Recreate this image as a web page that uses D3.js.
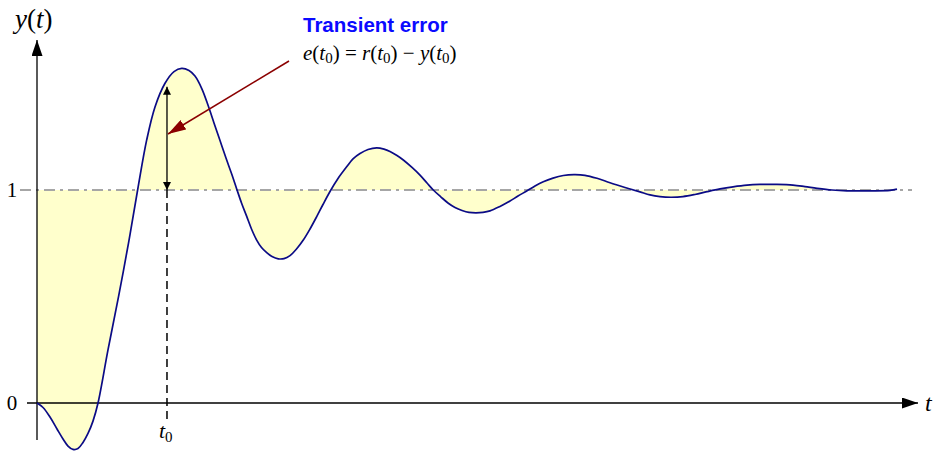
<!DOCTYPE html>
<html>
<head>
<meta charset="utf-8">
<script src="https://cdn.jsdelivr.net/npm/d3@7"></script>
<style>
  html, body { margin: 0; padding: 0; background: #fff; }
  svg { display: block; }
  .serif { font-family: "Liberation Serif", "Times New Roman", serif; }
</style>
</head>
<body>
<svg id="chart" width="933" height="451"></svg>
<script>
// Step response of a non-minimum-phase second-order system
const tValues = [0, 0.140, 0.302, 0.465, 0.605, 0.721, 0.837, 0.953, 1.070, 1.186,
  1.302, 1.419, 1.651, 1.895, 2.128, 2.340, 2.551, 2.744, 2.977, 3.186, 3.365,
  3.535, 3.674, 3.837, 3.984, 4.116, 4.256, 4.395, 4.528, 4.644, 4.756, 4.877,
  4.988, 5.109, 5.221, 5.342, 5.465, 5.612, 5.744, 5.884, 6.035, 6.193, 6.349,
  6.505, 6.651, 6.814, 7.000, 7.202, 7.349, 7.512, 7.698, 7.900, 8.070, 8.209,
  8.372, 8.519, 8.721, 8.907, 9.070, 9.216, 9.395, 9.565, 9.721, 9.884, 10.047,
  10.209, 10.372, 10.535, 10.767, 11.000, 11.186, 11.388, 11.581, 11.774, 12.000,
  12.240, 12.488, 12.744, 13.023, 13.326, 13.674, 14.023, 14.256, 14.488, 14.744,
  15.023, 15.302, 15.581, 15.884, 16.186, 16.512, 16.814, 17.209, 17.581, 17.860,
  18.140, 18.488, 18.837, 19.372, 19.837, 20.000];
const yValues = [0, -0.021, -0.066, -0.122, -0.169, -0.202, -0.218, -0.214, -0.185,
  -0.143, -0.085, 0, 0.249, 0.498, 0.751, 1.000, 1.235, 1.390, 1.501, 1.556, 1.571,
  1.561, 1.535, 1.474, 1.394, 1.315, 1.232, 1.150, 1.075, 1.005, 0.939, 0.876,
  0.817, 0.765, 0.730, 0.706, 0.688, 0.677, 0.678, 0.692, 0.723, 0.765, 0.817,
  0.875, 0.932, 0.993, 1.054, 1.109, 1.146, 1.171, 1.190, 1.198, 1.192, 1.181,
  1.162, 1.141, 1.106, 1.070, 1.033, 1.000, 0.967, 0.938, 0.918, 0.904, 0.895,
  0.893, 0.895, 0.902, 0.923, 0.948, 0.972, 0.995, 1.019, 1.039, 1.056, 1.068,
  1.072, 1.069, 1.055, 1.034, 1.012, 0.991, 0.977, 0.969, 0.966, 0.969, 0.979,
  0.992, 1.005, 1.015, 1.023, 1.026, 1.026, 1.023, 1.016, 1.008, 1.000, 0.996,
  0.996, 0.998, 1.004];
const reference = 1;           // set-point r(t)
const t0 = 3.023;              // instant where the error is shown
const yTickLabels = ["0", "1"];
const yTickValues = [0, 1];

const svg = d3.select("#chart");
const x = d3.scaleLinear().domain([0, 20]).range([37, 897]);
const y = d3.scaleLinear().domain([0, 1]).range([403, 190]);
const pts = tValues.map((t, i) => ({ t, v: yValues[i] }));

// linear lookup of the response at a given time
function yAt(t) {
  const i = Math.max(1, d3.bisectRight(tValues, t));
  const f = (t - tValues[i - 1]) / (tValues[i] - tValues[i - 1]);
  return yValues[i - 1] + f * (yValues[i] - yValues[i - 1]);
}

const defs = svg.append("defs");
function marker(id, color, w, h) {
  defs.append("marker").attr("id", id)
    .attr("viewBox", `0 0 ${w} ${h}`).attr("refX", w).attr("refY", h / 2)
    .attr("markerWidth", w).attr("markerHeight", h)
    .attr("markerUnits", "userSpaceOnUse").attr("orient", "auto-start-reverse")
    .append("path").attr("d", `M0,0L${w},${h / 2}L0,${h}Z`).attr("fill", color);
}
marker("axisHead", "#000", 16, 11);
marker("errHead", "#000", 8, 8);
marker("redHead", "#8b0000", 18, 11);

// transient error region between response and set-point
const curve = d3.curveCatmullRom.alpha(0.5);
svg.append("path").datum(pts)
  .attr("fill", "#ffffcc")
  .attr("d", d3.area().curve(curve).x(d => x(d.t)).y0(y(reference)).y1(d => y(d.v)));

// set-point line
svg.append("line")
  .attr("x1", 20).attr("x2", 912).attr("y1", y(reference)).attr("y2", y(reference))
  .attr("stroke", "#a6a6a6").attr("stroke-width", 2)
  .attr("stroke-dasharray", "11,5,3,5");

// axes
svg.append("line").attr("x1", 27).attr("x2", x(20) + 21)
  .attr("y1", y(0)).attr("y2", y(0))
  .attr("stroke", "#000").attr("stroke-width", 1.3).attr("marker-end", "url(#axisHead)");
svg.append("line").attr("x1", x(0)).attr("x2", x(0))
  .attr("y1", 440).attr("y2", 40)
  .attr("stroke", "#000").attr("stroke-width", 1.3).attr("marker-end", "url(#axisHead)");

// t0 marker
svg.append("line").attr("x1", x(t0)).attr("x2", x(t0))
  .attr("y1", y(reference)).attr("y2", 420)
  .attr("stroke", "#000").attr("stroke-width", 1.5).attr("stroke-dasharray", "8,5");

// response curve
svg.append("path").datum(pts)
  .attr("fill", "none").attr("stroke", "#0b0b86").attr("stroke-width", 1.7)
  .attr("d", d3.line().curve(curve).x(d => x(d.t)).y(d => y(d.v)));

// error double arrow
svg.append("line").attr("x1", x(t0)).attr("x2", x(t0))
  .attr("y1", y(yAt(t0)) + 6).attr("y2", y(reference))
  .attr("stroke", "#000").attr("stroke-width", 1.3)
  .attr("marker-start", "url(#errHead)").attr("marker-end", "url(#errHead)");

// pointer from annotation
svg.append("line").attr("x1", 289).attr("y1", 61).attr("x2", x(t0) + 1).attr("y2", 134)
  .attr("stroke", "#8b0000").attr("stroke-width", 1.5).attr("marker-end", "url(#redHead)");

// tick labels
svg.selectAll(".ytick").data(yTickValues).enter().append("text")
  .attr("class", "serif").attr("x", 12).attr("y", d => y(d))
  .attr("dy", "0.35em").attr("text-anchor", "middle")
  .attr("font-size", 21).text((d, i) => yTickLabels[i]);

// axis titles
const yt = svg.append("text").attr("class", "serif").attr("x", 15).attr("y", 28).attr("font-size", 27);
yt.append("tspan").attr("font-style", "italic").text("y");
yt.append("tspan").text("(");
yt.append("tspan").attr("font-style", "italic").text("t");
yt.append("tspan").text(")");

svg.append("text").attr("class", "serif").attr("x", 925).attr("y", 411)
  .attr("font-size", 24).attr("font-style", "italic").text("t");

const tl = svg.append("text").attr("class", "serif").attr("x", x(t0) - 8).attr("y", 438).attr("font-size", 22);
tl.append("tspan").attr("font-style", "italic").text("t");
tl.append("tspan").attr("font-size", 15).attr("dy", 4).text("0");

// annotation
svg.append("text").attr("x", 303).attr("y", 32)
  .attr("font-family", "'Liberation Sans', Arial, sans-serif").attr("font-weight", "bold")
  .attr("font-size", 20.5).attr("fill", "#0a0aff").text("Transient error");

const eq = svg.append("text").attr("class", "serif").attr("x", 303).attr("y", 60).attr("font-size", 21);
function sym(sel, letter) {
  sel.append("tspan").attr("font-style", "italic").text(letter);
  sel.append("tspan").text("(");
  sel.append("tspan").attr("font-style", "italic").text("t");
  sel.append("tspan").attr("font-size", 15).attr("dy", 3).text("0");
  sel.append("tspan").attr("dy", -3).text(")");
}
sym(eq, "e");
eq.append("tspan").text(" = ");
sym(eq, "r");
eq.append("tspan").text(" \u2212 ");
sym(eq, "y");
</script>
</body>
</html>
